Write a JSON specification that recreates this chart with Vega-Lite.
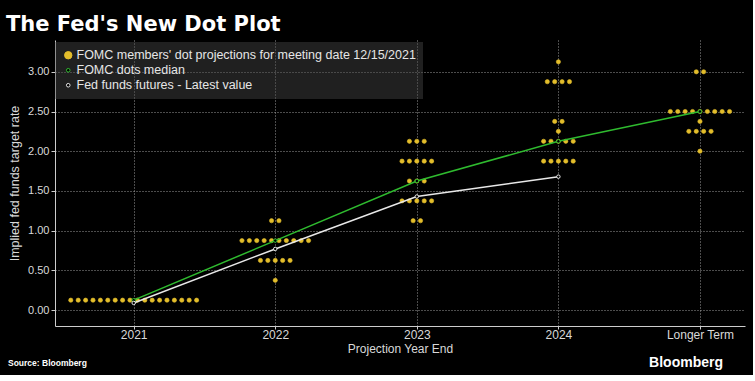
{
  "$schema": "https://vega.github.io/schema/vega-lite/v6.json",
  "background": "#000000",
  "autosize": "pad",
  "padding": {"left": 6, "top": 14, "right": 8, "bottom": 5},
  "title": {"text": "The Fed's New Dot Plot", "anchor": "start", "frame": "group", "dx": -49, "offset": 5, "font": "DejaVu Sans", "fontSize": 21, "fontWeight": "bold", "color": "#ffffff"},
  "bounds": "flush",
  "datasets": {
    "dots": [
      {"year":"2021","rate":0.125,"slot":-8.5,"s":"dots"},{"year":"2021","rate":0.125,"slot":-7.5,"s":"dots"},{"year":"2021","rate":0.125,"slot":-6.5,"s":"dots"},{"year":"2021","rate":0.125,"slot":-5.5,"s":"dots"},{"year":"2021","rate":0.125,"slot":-4.5,"s":"dots"},{"year":"2021","rate":0.125,"slot":-3.5,"s":"dots"},{"year":"2021","rate":0.125,"slot":-2.5,"s":"dots"},{"year":"2021","rate":0.125,"slot":-1.5,"s":"dots"},{"year":"2021","rate":0.125,"slot":-0.5,"s":"dots"},{"year":"2021","rate":0.125,"slot":0.5,"s":"dots"},{"year":"2021","rate":0.125,"slot":1.5,"s":"dots"},{"year":"2021","rate":0.125,"slot":2.5,"s":"dots"},{"year":"2021","rate":0.125,"slot":3.5,"s":"dots"},{"year":"2021","rate":0.125,"slot":4.5,"s":"dots"},{"year":"2021","rate":0.125,"slot":5.5,"s":"dots"},{"year":"2021","rate":0.125,"slot":6.5,"s":"dots"},{"year":"2021","rate":0.125,"slot":7.5,"s":"dots"},{"year":"2021","rate":0.125,"slot":8.5,"s":"dots"},
      {"year":"2022","rate":1.125,"slot":-0.5,"s":"dots"},{"year":"2022","rate":1.125,"slot":0.5,"s":"dots"},
      {"year":"2022","rate":0.875,"slot":-4.5,"s":"dots"},{"year":"2022","rate":0.875,"slot":-3.5,"s":"dots"},{"year":"2022","rate":0.875,"slot":-2.5,"s":"dots"},{"year":"2022","rate":0.875,"slot":-1.5,"s":"dots"},{"year":"2022","rate":0.875,"slot":-0.5,"s":"dots"},{"year":"2022","rate":0.875,"slot":0.5,"s":"dots"},{"year":"2022","rate":0.875,"slot":1.5,"s":"dots"},{"year":"2022","rate":0.875,"slot":2.5,"s":"dots"},{"year":"2022","rate":0.875,"slot":3.5,"s":"dots"},{"year":"2022","rate":0.875,"slot":4.5,"s":"dots"},
      {"year":"2022","rate":0.625,"slot":-2,"s":"dots"},{"year":"2022","rate":0.625,"slot":-1,"s":"dots"},{"year":"2022","rate":0.625,"slot":0,"s":"dots"},{"year":"2022","rate":0.625,"slot":1,"s":"dots"},{"year":"2022","rate":0.625,"slot":2,"s":"dots"},
      {"year":"2022","rate":0.375,"slot":0,"s":"dots"},
      {"year":"2023","rate":2.125,"slot":-1,"s":"dots"},{"year":"2023","rate":2.125,"slot":0,"s":"dots"},{"year":"2023","rate":2.125,"slot":1,"s":"dots"},
      {"year":"2023","rate":1.875,"slot":-2,"s":"dots"},{"year":"2023","rate":1.875,"slot":-1,"s":"dots"},{"year":"2023","rate":1.875,"slot":0,"s":"dots"},{"year":"2023","rate":1.875,"slot":1,"s":"dots"},{"year":"2023","rate":1.875,"slot":2,"s":"dots"},
      {"year":"2023","rate":1.625,"slot":-1,"s":"dots"},{"year":"2023","rate":1.625,"slot":0,"s":"dots"},{"year":"2023","rate":1.625,"slot":1,"s":"dots"},
      {"year":"2023","rate":1.375,"slot":-2,"s":"dots"},{"year":"2023","rate":1.375,"slot":-1,"s":"dots"},{"year":"2023","rate":1.375,"slot":0,"s":"dots"},{"year":"2023","rate":1.375,"slot":1,"s":"dots"},{"year":"2023","rate":1.375,"slot":2,"s":"dots"},
      {"year":"2023","rate":1.125,"slot":-0.5,"s":"dots"},{"year":"2023","rate":1.125,"slot":0.5,"s":"dots"},
      {"year":"2024","rate":3.125,"slot":0,"s":"dots"},
      {"year":"2024","rate":2.875,"slot":-1.5,"s":"dots"},{"year":"2024","rate":2.875,"slot":-0.5,"s":"dots"},{"year":"2024","rate":2.875,"slot":0.5,"s":"dots"},{"year":"2024","rate":2.875,"slot":1.5,"s":"dots"},
      {"year":"2024","rate":2.375,"slot":-0.5,"s":"dots"},{"year":"2024","rate":2.375,"slot":0.5,"s":"dots"},
      {"year":"2024","rate":2.25,"slot":0,"s":"dots"},
      {"year":"2024","rate":2.125,"slot":-2,"s":"dots"},{"year":"2024","rate":2.125,"slot":-1,"s":"dots"},{"year":"2024","rate":2.125,"slot":0,"s":"dots"},{"year":"2024","rate":2.125,"slot":1,"s":"dots"},{"year":"2024","rate":2.125,"slot":2,"s":"dots"},
      {"year":"2024","rate":1.875,"slot":-2,"s":"dots"},{"year":"2024","rate":1.875,"slot":-1,"s":"dots"},{"year":"2024","rate":1.875,"slot":0,"s":"dots"},{"year":"2024","rate":1.875,"slot":1,"s":"dots"},{"year":"2024","rate":1.875,"slot":2,"s":"dots"},
      {"year":"Longer Term","rate":3.0,"slot":-0.5,"s":"dots"},{"year":"Longer Term","rate":3.0,"slot":0.5,"s":"dots"},
      {"year":"Longer Term","rate":2.5,"slot":-4,"s":"dots"},{"year":"Longer Term","rate":2.5,"slot":-3,"s":"dots"},{"year":"Longer Term","rate":2.5,"slot":-2,"s":"dots"},{"year":"Longer Term","rate":2.5,"slot":-1,"s":"dots"},{"year":"Longer Term","rate":2.5,"slot":0,"s":"dots"},{"year":"Longer Term","rate":2.5,"slot":1,"s":"dots"},{"year":"Longer Term","rate":2.5,"slot":2,"s":"dots"},{"year":"Longer Term","rate":2.5,"slot":3,"s":"dots"},{"year":"Longer Term","rate":2.5,"slot":4,"s":"dots"},
      {"year":"Longer Term","rate":2.375,"slot":0,"s":"dots"},
      {"year":"Longer Term","rate":2.25,"slot":-1.5,"s":"dots"},{"year":"Longer Term","rate":2.25,"slot":-0.5,"s":"dots"},{"year":"Longer Term","rate":2.25,"slot":0.5,"s":"dots"},{"year":"Longer Term","rate":2.25,"slot":1.5,"s":"dots"},
      {"year":"Longer Term","rate":2.0,"slot":0,"s":"dots"}
    ],
    "lines": [
      {"year":"2021","rate":0.125,"s":"median"},
      {"year":"2022","rate":0.875,"s":"median"},
      {"year":"2023","rate":1.625,"s":"median"},
      {"year":"2024","rate":2.125,"s":"median"},
      {"year":"Longer Term","rate":2.5,"s":"median"},
      {"year":"2021","rate":0.09,"s":"futures"},
      {"year":"2022","rate":0.77,"s":"futures"},
      {"year":"2023","rate":1.43,"s":"futures"},
      {"year":"2024","rate":1.68,"s":"futures"}
    ]
  },
  "vconcat": [
    {
      "title": {"text": "Source: Bloomberg", "orient": "bottom", "anchor": "start", "frame": "group", "dx": -47, "dy": -11, "offset": 0, "font": "Liberation Sans", "fontSize": 8.5, "fontWeight": "bold", "color": "#ffffff"},
      "bounds": "flush",
      "vconcat": [
        {
          "width": 690,
          "height": 286,
          "title": {"text": "Bloomberg", "orient": "bottom", "anchor": "end", "frame": "group", "dx": -22, "offset": 2, "font": "Liberation Sans", "fontSize": 14, "fontWeight": "bold", "color": "#ffffff"},
          "layer": [
            {
              "data": {"name": "dots"},
              "mark": {"type": "point", "shape": "circle", "opacity": 1, "size": 18, "strokeWidth": 0.6},
              "encoding": {
                "x": {"field": "year", "type": "nominal", "title": "Projection Year End",
                  "scale": {"type": "point", "domain": ["2021","2022","2023","2024","Longer Term"], "padding": 0.437, "align": 0.636},
                  "axis": {"labelAngle": 0, "grid": true, "tickSize": 3, "labelPadding": 0, "titlePadding": 3}},
                "xOffset": {"field": "slot", "type": "quantitative", "scale": {"domain": [-10, 10], "range": [-74, 74]}},
                "y": {"field": "rate", "type": "quantitative", "title": "Implied fed funds target rate",
                  "scale": {"domain": [-0.2, 3.4], "nice": false, "zero": false},
                  "axis": {"values": [0, 0.5, 1, 1.5, 2, 2.5, 3], "format": ".2f", "grid": true, "tickSize": 4, "labelPadding": 2, "titlePadding": 6, "labelFontSize": 11, "titleFontSize": 12.5}},
                "fill": {"field": "s", "type": "nominal",
                  "scale": {"domain": ["dots", "median", "futures"], "range": ["#e3bd2b", "#000000", "#000000"]},
                  "legend": {"orient": "none", "legendX": 0, "legendY": 2, "title": null, "fillColor": "rgba(70,70,70,0.45)", "padding": 7,
                    "labelColor": "#e6e6e6", "labelFontSize": 12.5, "labelFont": "Liberation Sans", "labelLimit": 600, "symbolType": "circle",
                    "symbolStrokeWidth": 1, "rowPadding": 2, "labelOffset": 2, "symbolSize": 14,
                    "labelExpr": "datum.label == 'dots' ? \"FOMC members' dot projections for meeting date 12/15/2021\" : datum.label == 'median' ? 'FOMC dots median' : 'Fed funds futures - Latest value'",
                    "encoding": {"symbols": {"size": {"value": {"expr": "datum.value == 'dots' ? 55 : 13"}}}}}},
                "stroke": {"field": "s", "type": "nominal",
                  "scale": {"domain": ["dots", "median", "futures"], "range": ["#e3bd2b", "#2fbb2f", "#e8e8e8"]}}
              }
            },
            {
              "data": {"name": "lines"},
              "mark": {"type": "line", "strokeWidth": 1.5},
              "encoding": {
                "x": {"field": "year", "type": "nominal"},
                "y": {"field": "rate", "type": "quantitative"},
                "color": {"field": "s", "type": "nominal", "scale": {"domain": ["median", "futures"], "range": ["#2fbb2f", "#e8e8e8"]}, "legend": null}
              }
            },
            {
              "data": {"name": "lines"},
              "mark": {"type": "point", "shape": "circle", "opacity": 1, "size": 12, "strokeWidth": 1},
              "encoding": {
                "x": {"field": "year", "type": "nominal"},
                "y": {"field": "rate", "type": "quantitative"},
                "fill": {"field": "s", "type": "nominal"},
                "stroke": {"field": "s", "type": "nominal"}
              }
            }
          ]
        }
      ]
    }
  ],
  "config": {
    "view": {"stroke": null},
    "font": "Liberation Sans",
    "axis": {
      "labelColor": "#d9d9d9", "labelFontSize": 12, "labelFont": "Liberation Sans",
      "titleColor": "#d9d9d9", "titleFontSize": 12, "titleFontWeight": "normal", "titleFont": "Liberation Sans",
      "domainColor": "#cccccc", "tickColor": "#cccccc",
      "gridColor": "#a8a8a8", "gridDash": [1, 2], "gridOpacity": 0.9, "gridWidth": 1
    }
  }
}
